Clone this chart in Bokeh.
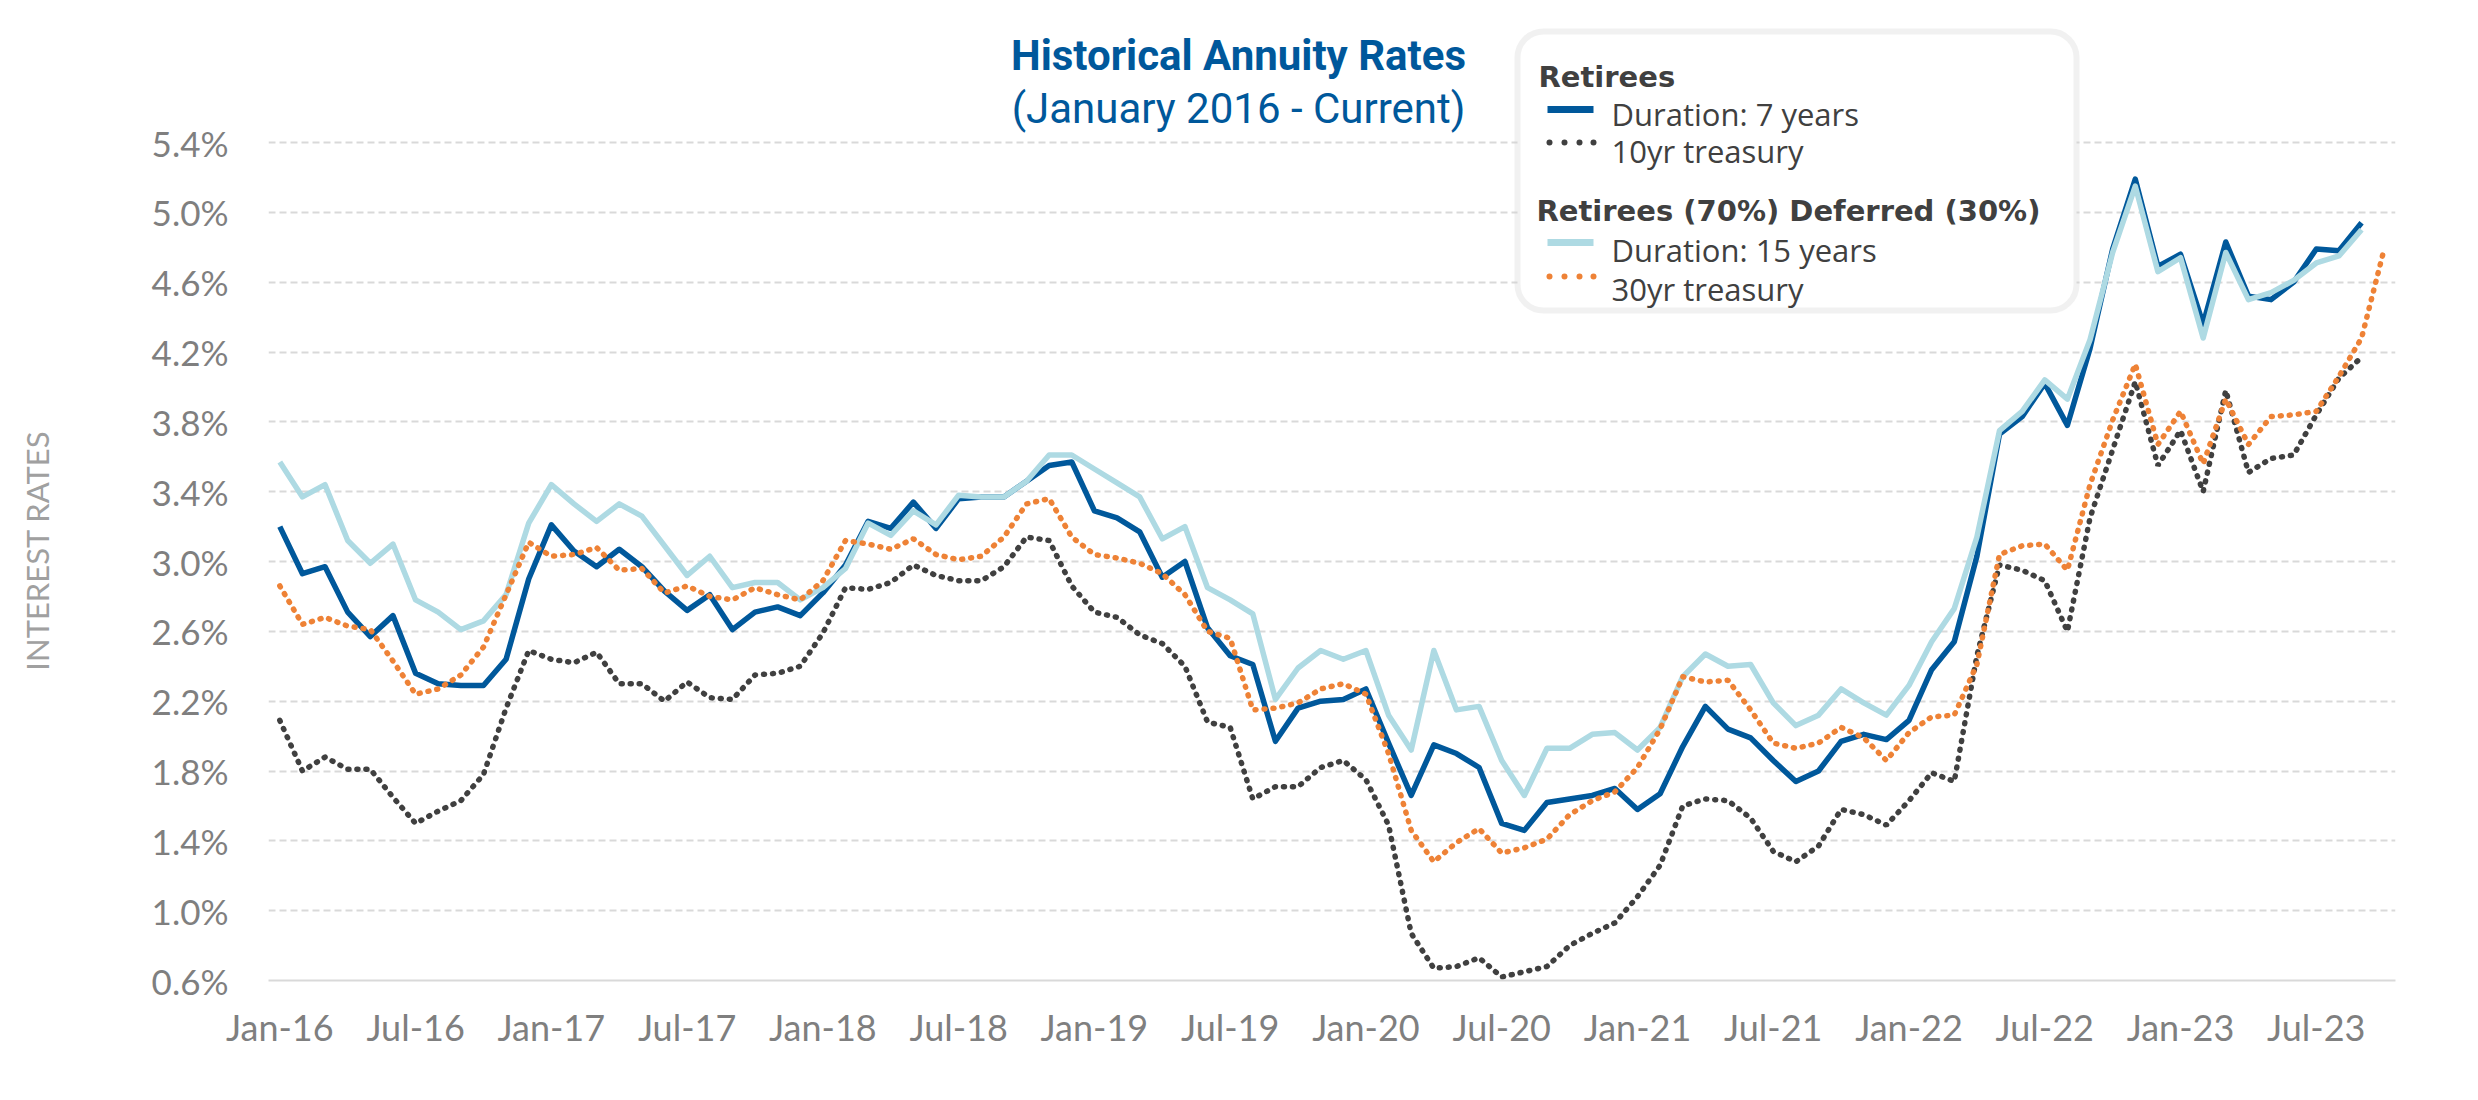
from bokeh.plotting import figure
from bokeh.models import Range1d, FixedTicker, PrintfTickFormatter, BoxAnnotation, ColumnDataSource
from bokeh.core.properties import value
from bokeh.embed import file_html
from bokeh.resources import INLINE
import pandas as pd

# ---------------- data ----------------
months = pd.date_range("2016-01-01", "2023-10-01", freq="MS").strftime("%b-%y").tolist()

rate_7yr = [3.20, 2.93, 2.97, 2.71, 2.57, 2.69, 2.36, 2.30, 2.29, 2.29, 2.44, 2.90,
            3.21, 3.06, 2.97, 3.07, 2.97, 2.83, 2.72, 2.81, 2.61, 2.71, 2.74, 2.69,
            2.82, 2.98, 3.23, 3.19, 3.34, 3.19, 3.36, 3.37, 3.37, 3.46, 3.55, 3.57,
            3.29, 3.25, 3.17, 2.91, 3.00, 2.62, 2.46, 2.41, 1.97, 2.16, 2.20, 2.21,
            2.27, 1.96, 1.66, 1.95, 1.90, 1.82, 1.50, 1.46, 1.62, 1.64, 1.66, 1.70,
            1.58, 1.67, 1.94, 2.17, 2.04, 1.99, 1.86, 1.74, 1.80, 1.97, 2.01, 1.98,
            2.09, 2.38, 2.54, 3.03, 3.73, 3.83, 4.02, 3.78, 4.22, 4.79, 5.19, 4.69,
            4.76, 4.36, 4.83, 4.52, 4.50, 4.60, 4.79, 4.78, 4.94]

rate_15yr = [3.57, 3.37, 3.44, 3.12, 2.99, 3.10, 2.78, 2.71, 2.61, 2.66, 2.81, 3.22,
             3.44, 3.33, 3.23, 3.33, 3.26, 3.09, 2.92, 3.03, 2.85, 2.88, 2.88, 2.78,
             2.85, 2.96, 3.22, 3.15, 3.29, 3.21, 3.38, 3.37, 3.37, 3.46, 3.61, 3.61,
             3.53, 3.45, 3.37, 3.13, 3.20, 2.85, 2.78, 2.70, 2.21, 2.39, 2.49, 2.44,
             2.49, 2.12, 1.92, 2.49, 2.15, 2.17, 1.86, 1.66, 1.93, 1.93, 2.01, 2.02,
             1.92, 2.05, 2.34, 2.47, 2.40, 2.41, 2.19, 2.06, 2.12, 2.27, 2.19, 2.12,
             2.29, 2.54, 2.73, 3.14, 3.75, 3.86, 4.04, 3.93, 4.27, 4.77, 5.15, 4.66,
             4.74, 4.28, 4.77, 4.50, 4.54, 4.61, 4.71, 4.75, 4.90]

treasury_10yr = [2.09, 1.80, 1.88, 1.81, 1.81, 1.65, 1.50, 1.57, 1.63, 1.78, 2.16, 2.49,
                 2.44, 2.42, 2.48, 2.30, 2.30, 2.20, 2.31, 2.22, 2.21, 2.35, 2.36, 2.40,
                 2.59, 2.85, 2.84, 2.88, 2.98, 2.92, 2.89, 2.89, 2.97, 3.14, 3.12, 2.86,
                 2.71, 2.68, 2.58, 2.53, 2.40, 2.08, 2.05, 1.64, 1.71, 1.71, 1.82, 1.86,
                 1.75, 1.49, 0.87, 0.67, 0.68, 0.73, 0.62, 0.65, 0.68, 0.80, 0.87, 0.93,
                 1.08, 1.26, 1.60, 1.64, 1.63, 1.53, 1.34, 1.28, 1.37, 1.58, 1.55, 1.49,
                 1.63, 1.79, 1.74, 2.46, 2.98, 2.95, 2.89, 2.60, 3.25, 3.64, 4.03, 3.55,
                 3.75, 3.40, 3.98, 3.51, 3.59, 3.61, 3.84, 4.05, 4.17]

treasury_30yr = [2.86, 2.64, 2.68, 2.63, 2.61, 2.43, 2.24, 2.27, 2.35, 2.51, 2.81, 3.11,
                 3.03, 3.04, 3.08, 2.95, 2.96, 2.82, 2.86, 2.80, 2.78, 2.85, 2.81, 2.78,
                 2.89, 3.12, 3.10, 3.07, 3.13, 3.04, 3.01, 3.03, 3.14, 3.33, 3.36, 3.14,
                 3.04, 3.02, 2.99, 2.93, 2.81, 2.60, 2.56, 2.15, 2.16, 2.19, 2.27, 2.30,
                 2.24, 1.90, 1.46, 1.28, 1.39, 1.47, 1.33, 1.36, 1.41, 1.55, 1.63, 1.68,
                 1.82, 2.04, 2.34, 2.31, 2.32, 2.15, 1.96, 1.93, 1.96, 2.05, 1.99, 1.86,
                 2.02, 2.11, 2.12, 2.41, 3.04, 3.09, 3.10, 2.95, 3.44, 3.81, 4.13, 3.67,
                 3.86, 3.56, 3.93, 3.67, 3.83, 3.84, 3.86, 4.06, 4.28, 4.79]

tick_labels = ["Jan-16", "Jul-16", "Jan-17", "Jul-17", "Jan-18", "Jul-18", "Jan-19", "Jul-19",
               "Jan-20", "Jul-20", "Jan-21", "Jul-21", "Jan-22", "Jul-22", "Jan-23", "Jul-23"]
y_ticks = [0.6, 1.0, 1.4, 1.8, 2.2, 2.6, 3.0, 3.4, 3.8, 4.2, 4.6, 5.0, 5.4]

# ---------------- layout (pixels) ----------------
W, H = 2460, 1080
BL, BR, BT, BB = 268, 65, 4, 100
FW, FH = W - BL - BR, H - BT - BB
X0, X1 = -0.5, len(months) - 0.5
PXX = FW / (X1 - X0)
PXY = (988 - 150) / (5.4 - 0.6)          # 0.6% at screen y 988, 5.4% at 150
Y0 = 0.6
Y1 = Y0 + FH / PXY
OFF = 8  # page margin


def sx(px):
    return X0 + (px - OFF - BL) / PXX


def sy(py):
    return Y0 + (988 - py) / PXY


p = figure(width=W, height=H, frame_width=FW, frame_height=FH,
           x_range=Range1d(X0, X1), y_range=Range1d(Y0, Y1),
           output_backend="svg", toolbar_location=None,
           min_border_left=BL, min_border_right=BR, min_border_top=BT, min_border_bottom=BB)
p.outline_line_color = None
p.background_fill_color = "white"
p.border_fill_color = "white"

# axes
p.xaxis.ticker = FixedTicker(ticks=[months.index(t) for t in tick_labels])
p.xaxis.major_label_overrides = {months.index(t): t for t in tick_labels}
p.xaxis.major_tick_line_color = None
p.xaxis.minor_tick_line_color = None
p.xaxis.axis_line_color = "#D9D9D9"
p.xaxis.axis_line_width = 2
p.xaxis.major_label_text_font = "Lato"
p.xaxis.major_label_text_font_size = "36px"
p.xaxis.major_label_text_color = "#7F7F7F"
p.xaxis.major_label_standoff = 18

p.yaxis.ticker = FixedTicker(ticks=y_ticks)
p.yaxis.formatter = PrintfTickFormatter(format="%.1f%%")
p.yaxis.axis_line_color = None
p.yaxis.major_tick_line_color = None
p.yaxis.minor_tick_line_color = None
p.yaxis.major_label_text_font = "Lato"
p.yaxis.major_label_text_font_size = "35px"
p.yaxis.major_label_text_color = "#7F7F7F"
p.yaxis.major_label_standoff = 34
# em-spaces at the end shift the visible title down so it is centred on the 0.6%-5.4% span
p.yaxis.axis_label = "INTEREST RATES" + "\u2003" * 5
p.yaxis.axis_label_text_font = "Lato"
p.yaxis.axis_label_text_font_style = "normal"
p.yaxis.axis_label_text_font_size = "31px"
p.yaxis.axis_label_text_color = "#A0A0A0"
p.yaxis.axis_label_standoff = 93

p.xgrid.grid_line_color = None
p.ygrid.ticker = FixedTicker(ticks=y_ticks)
p.ygrid.grid_line_color = "#D9D9D9"
p.ygrid.grid_line_width = 2
p.ygrid.grid_line_dash = "7 4"

# series
BLUE, LIGHT, DARK, ORANGE = "#00589B", "#AEDAE3", "#404040", "#EE8236"

src7 = ColumnDataSource(dict(x=list(range(len(rate_7yr))), y=rate_7yr))
src10 = ColumnDataSource(dict(x=list(range(len(treasury_10yr))), y=treasury_10yr))
src15 = ColumnDataSource(dict(x=list(range(len(rate_15yr))), y=rate_15yr))
src30 = ColumnDataSource(dict(x=list(range(len(treasury_30yr))), y=treasury_30yr))

p.line("x", "y", source=src7, line_color=BLUE, line_width=5.5, line_join="round")
p.line("x", "y", source=src10, line_color=DARK, line_width=5.5, line_dash="1 8", line_cap="round")
p.line("x", "y", source=src15, line_color=LIGHT, line_width=5.5, line_join="round")
p.line("x", "y", source=src30, line_color=ORANGE, line_width=5.5, line_dash="1 8", line_cap="round")

# title
p.text(x=[sx(1246)], y=[sy(63)], text=["Historical Annuity Rates"],
       text_font=value("Roboto"), text_font_style="bold", text_font_size="42px",
       text_color="#00589B", text_align="center", text_baseline="alphabetic")
p.text(x=[sx(1246)], y=[sy(116)], text=["(January 2016 - Current)"],
       text_font=value("Roboto"), text_font_size="42px",
       text_color="#00589B", text_align="center", text_baseline="alphabetic")

# legend box
box = BoxAnnotation(left=sx(1525), right=sx(2084), top=sy(39), bottom=sy(318),
                    fill_color="white", fill_alpha=1.0, line_color="#D0D0D0",
                    line_width=6, border_radius=26)
p.add_layout(box)

hdr = dict(text_font=value("DejaVu Sans"), text_font_style="bold", text_font_size="29px",
           text_color="#404040", text_align="left", text_baseline="alphabetic", level="overlay")
itm = dict(text_font=value("Open Sans"), text_font_size="31px",
           text_color="#404040", text_align="left", text_baseline="alphabetic", level="overlay")

p.text(x=[sx(1546)], y=[sy(84)], text=["Retirees"], **hdr)
p.text(x=[sx(1544)], y=[sy(218)], text=["Retirees (70%) Deferred (30%)"], **hdr)
p.text(x=[sx(1619)], y=[sy(121)], text=["Duration: 7 years"], **itm)
p.text(x=[sx(1619)], y=[sy(158)], text=["10yr treasury"], **itm)
p.text(x=[sx(1619)], y=[sy(257)], text=["Duration: 15 years"], **itm)
p.text(x=[sx(1619)], y=[sy(296)], text=["30yr treasury"], **itm)

p.line(x=[sx(1555), sx(1601)], y=[sy(117), sy(117)], line_color=BLUE, line_width=7, level="overlay")
p.line(x=[sx(1555), sx(1601)], y=[sy(250), sy(250)], line_color=LIGHT, line_width=7, level="overlay")
dot_x = [sx(1557), sx(1572), sx(1587), sx(1601)]
p.scatter(x=dot_x, y=[sy(150)] * 4, size=6, fill_color=DARK, line_color=None, level="overlay")
p.scatter(x=dot_x, y=[sy(284)] * 4, size=6, fill_color=ORANGE, line_color=None, level="overlay")

open("out.html", "w").write(file_html(p, INLINE))
